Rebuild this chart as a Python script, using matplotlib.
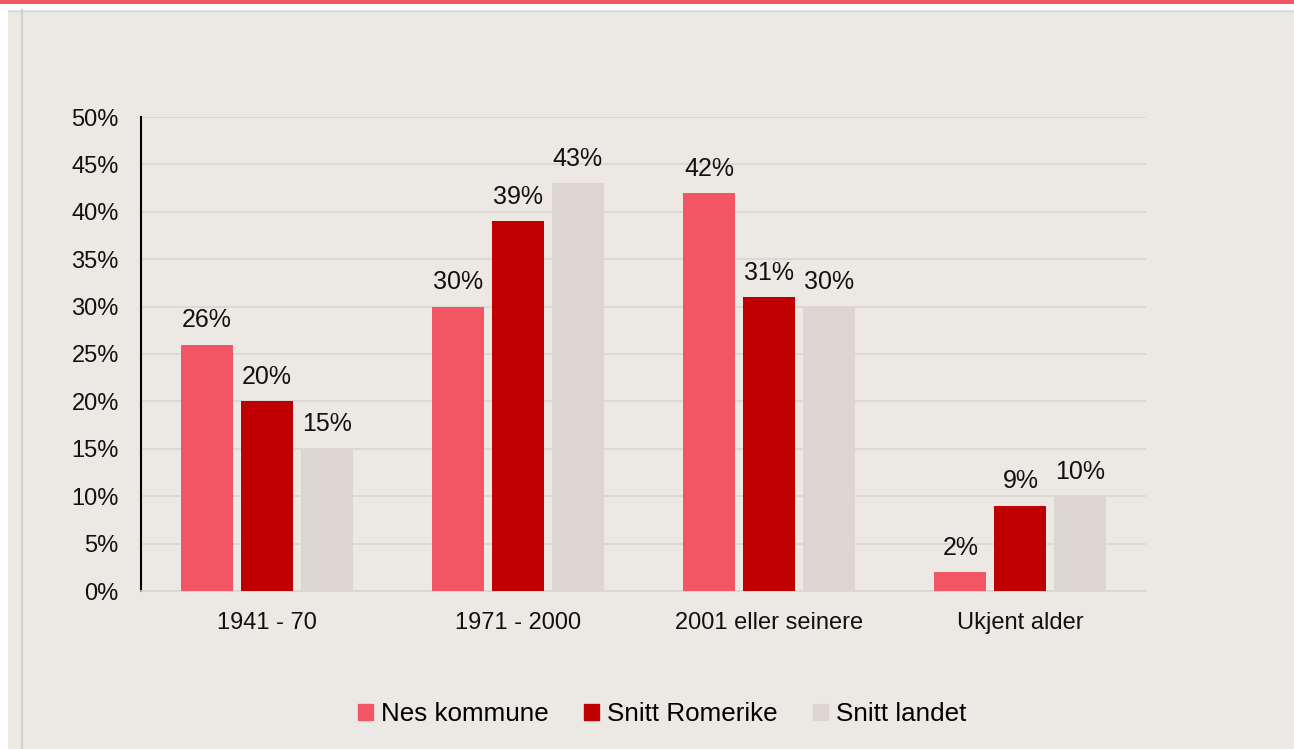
import matplotlib.pyplot as plt
from matplotlib.patches import Rectangle
from matplotlib.lines import Line2D
import numpy as np

# data
categories = ['1941 - 70', '1971 - 2000', '2001 eller seinere', 'Ukjent alder']
nes = [26, 30, 42, 2]
romerike = [20, 39, 31, 9]
landet = [15, 43, 30, 10]
series_names = ['Nes kommune', 'Snitt Romerike', 'Snitt landet']
colors = ['#F25664', '#C00000', '#DDD6D0']
yticks = [0, 5, 10, 15, 20, 25, 30, 35, 40, 45, 50]

plt.rcParams['font.family'] = ['Liberation Sans', 'DejaVu Sans']

bg = '#ECE9E4'
W, H = 1294, 749
fig = plt.figure(figsize=(W / 100, H / 100), dpi=100)
fig.patch.set_facecolor('white')

# page decoration: red top strip, beige panel, grey left rule
fig.add_artist(Rectangle((8 / W, 0), 1 - 8 / W, 1 - 10 / H, transform=fig.transFigure,
                         facecolor=bg, edgecolor='none', zorder=-10))
fig.add_artist(Rectangle((0, 1 - 4 / H), 1, 4 / H, transform=fig.transFigure,
                         facecolor='#F25664', edgecolor='none', zorder=-5))
fig.add_artist(Line2D([8 / W, 1], [1 - 10.5 / H] * 2, transform=fig.transFigure,
                      color='#D8D5D0', lw=1))
fig.add_artist(Line2D([22 / W, 22 / W], [0, 1 - 10 / H], transform=fig.transFigure,
                      color='#D4D1CC', lw=1.5))

ax = fig.add_axes([141 / W, 1 - 591 / H, (1146 - 141) / W, (591 - 117) / H])
ax.set_facecolor(bg)

x = np.arange(len(categories))
step = 0.239
width = 0.207
for i, (vals, c, name) in enumerate(zip([nes, romerike, landet], colors, series_names)):
    pos = x + (i - 1) * step
    bars = ax.bar(pos, vals, width, color=c, label=name, zorder=3)
    for b, v in zip(bars, vals):
        ax.text(b.get_x() + b.get_width() / 2, v + 1.3, f'{v}%', ha='center', va='bottom',
                fontsize=18, color='#111111')

ax.set_xlim(-0.5, len(categories) - 0.5)
ax.set_ylim(0, 50)
ax.set_yticks(yticks)
ax.set_yticklabels([f'{t}%' for t in yticks], fontsize=17, color='#111111')
ax.set_xticks(x)
ax.set_xticklabels(categories, fontsize=17, color='#111111')
ax.tick_params(axis='y', length=0, pad=16)
ax.tick_params(axis='x', length=0, pad=15)
ax.yaxis.grid(True, color='#D9D6D1', lw=1.2, zorder=0)
ax.set_axisbelow(True)
for s in ['top', 'right']:
    ax.spines[s].set_visible(False)
ax.spines['left'].set_color('black')
ax.spines['left'].set_linewidth(1.5)
ax.spines['bottom'].set_color('#D9D6D1')
ax.spines['bottom'].set_linewidth(1.2)

handles = [Rectangle((0, 0), 1, 1, color=c) for c in colors]
fig.legend(handles, series_names, loc='center', bbox_to_anchor=(662 / W, 1 - 714 / H),
           ncol=3, frameon=False, fontsize=18.7, handlelength=0.6, handleheight=0.6,
           handletextpad=0.3, columnspacing=1.35)

fig.savefig('out.png', dpi=100, facecolor=fig.get_facecolor())
